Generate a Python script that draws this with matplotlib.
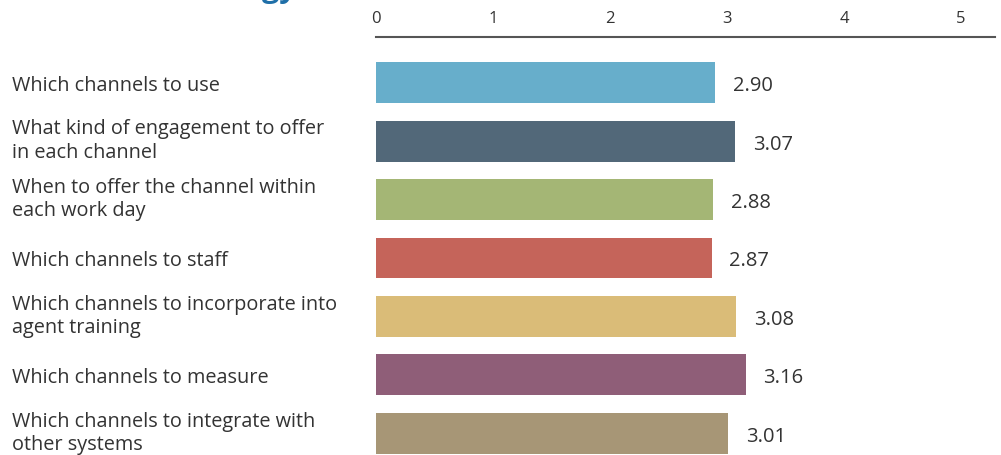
import matplotlib
matplotlib.use("Agg")
import matplotlib.pyplot as plt

# survey items and their mean scores (0-5 scale)
items = [
    "Which channels to use",
    "What kind of engagement to offer\nin each channel",
    "When to offer the channel within\neach work day",
    "Which channels to staff",
    "Which channels to incorporate into\nagent training",
    "Which channels to measure",
    "Which channels to integrate with\nother systems",
]
scores = [2.90, 3.07, 2.88, 2.87, 3.08, 3.16, 3.01]
colors = ["#67AECB", "#526879", "#A4B675", "#C5645A", "#DABC78", "#8F5E78", "#A79676"]
ticks = [0, 1, 2, 3, 4, 5]

plt.rcParams["font.family"] = ["Open Sans", "DejaVu Sans"]
txt = "#333333"

W, H = 1001, 455
fig = plt.figure(figsize=(W / 100, H / 100), dpi=100)
ax = fig.add_axes([376 / W, 0, (995 - 376) / W, (455 - 37) / H])

y = list(range(len(items)))
ax.barh(y, scores, height=0.70, color=colors, zorder=2)
for yi, v in zip(y, scores):
    ax.text(v + 0.15, yi + 0.06, f"{v:.2f}", va="center", ha="left",
            fontsize=14.5, color=txt)

ax.set_xlim(0, 5.29)
ax.set_ylim(6.37, -0.78)
ax.xaxis.tick_top()
ax.set_xticks(ticks)
ax.set_xticklabels([str(t) for t in ticks])
ax.tick_params(axis="x", length=0, pad=7, labelsize=12, labelcolor=txt)
ax.set_yticks([])
for s in ["left", "right", "bottom"]:
    ax.spines[s].set_visible(False)
ax.spines["top"].set_color("#555555")
ax.spines["top"].set_linewidth(1.5)

# category labels at the left edge of the figure
for yi, lab in zip(y, items):
    yd = ax.transData.transform((0, yi + (0.06 if "\n" not in lab else 0)))[1]
    fig.text(12 / W, yd / H, lab, ha="left", va="center", fontsize=14.3,
             color=txt, linespacing=1.22)

# heading above, mostly outside the canvas
fig.text(297 / W, 1 + 3 / H, "Channel strategy", ha="right", va="baseline",
         fontsize=22, fontweight="bold", color="#1F6FA8")

fig.savefig("out.png", dpi=100)
